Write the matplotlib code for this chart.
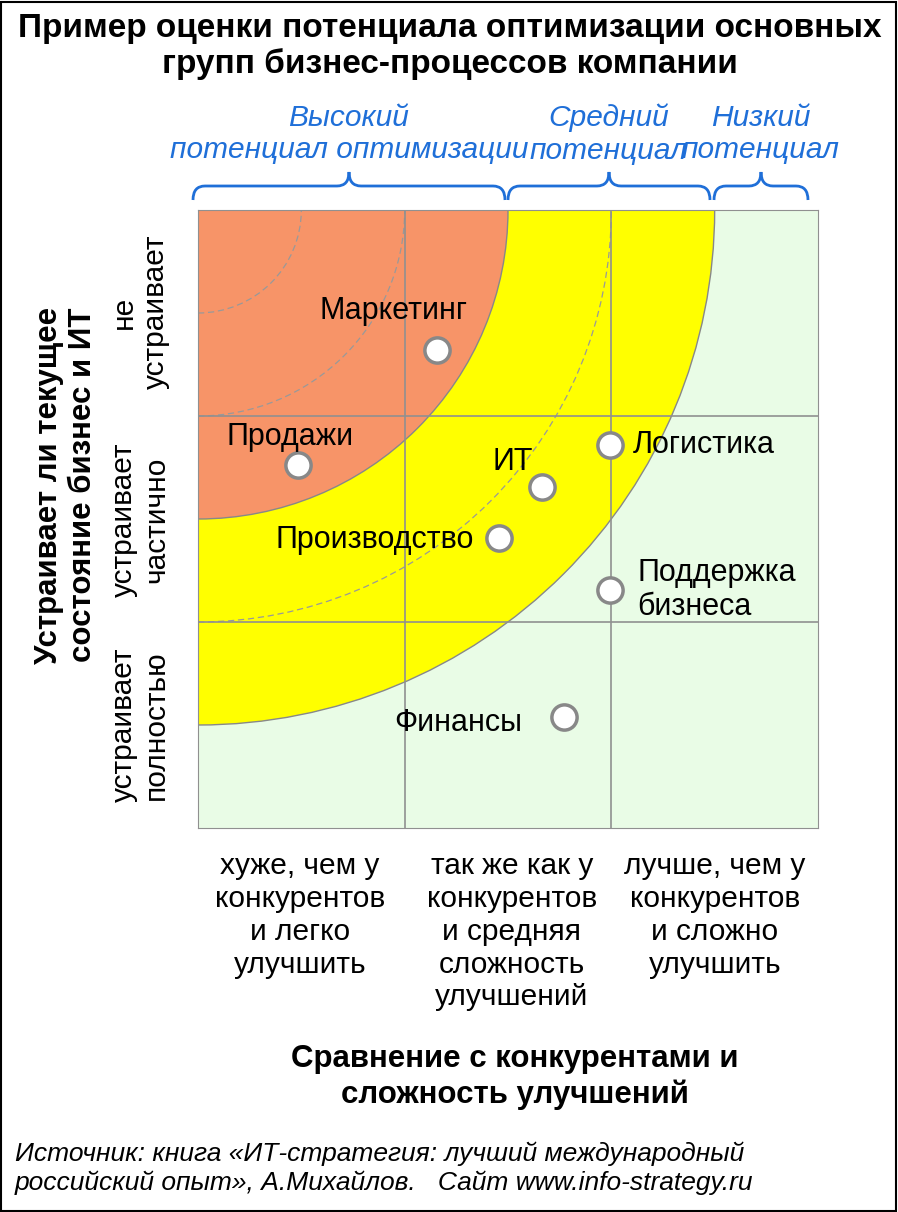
import matplotlib
matplotlib.use("Agg")
import matplotlib.pyplot as plt
from matplotlib.patches import Circle, Rectangle, PathPatch
from matplotlib.path import Path

plt.rcParams["font.family"] = "Liberation Sans"

names = ["Маркетинг", "Продажи", "ИТ", "Логистика", "Производство", "Поддержка\nбизнеса", "Финансы"]
xs = [1.155, 0.485, 1.665, 1.995, 1.456, 1.995, 1.77]
ys = [2.32, 1.76, 1.655, 1.86, 1.41, 1.155, 0.54]
# label offsets (data units) and alignment
lab = [(-0.21, 0.19, "center"), (-0.04, 0.14, "center"), (-0.14, 0.12, "center"),
       (0.11, 0.0, "left"), (-0.12, -0.01, "right"), (0.13, 0.0, "left"), (-0.2, -0.03, "right")]
zone_radii = [2.5, 1.5]
zone_colors = ["#FFFF00", "#F79468"]
dashed_radii = [0.5, 1.0, 2.0]
x_cats = ["хуже, чем у\nконкурентов\nи легко\nулучшить",
          "так же как у\nконкурентов\nи средняя\nсложность\nулучшений",
          "лучше, чем у\nконкурентов\nи сложно\nулучшить"]
y_cats = ["устраивает\nполностью", "устраивает\nчастично", "не\nустраивает"]
potentials = ["Высокий\nпотенциал оптимизации", "Средний\nпотенциал", "Низкий\nпотенциал"]

W, H = 898, 1212
fig = plt.figure(figsize=(W/100, H/100), dpi=100)
fig.patches.append(Rectangle((1, 1), W-3, H-3, transform=None, fill=False, ec="black", lw=1.5))

def fy(py):
    return 1 - py/H

ax = fig.add_axes([198/W, fy(828), 620/W, 618/H])
ax.set_xlim(0, 3); ax.set_ylim(0, 3)
ax.add_patch(Rectangle((0, 0), 3, 3, fc="#E9FCE6", ec="none", zorder=0))
for r, c in zip(zone_radii, zone_colors):
    ax.add_patch(Circle((0, 3), r, fc=c, ec="#888888", lw=1, zorder=1))
for r in dashed_radii:
    ax.add_patch(Circle((0, 3), r, fill=False, ec="#999999", lw=0.9, ls=(0, (5, 3)), zorder=2))
for v in [1, 2]:
    ax.axvline(v, color="#909090", lw=1.2, zorder=3)
    ax.axhline(v, color="#909090", lw=1.2, zorder=3)
for s in ax.spines.values():
    s.set_color("#909090")
ax.set_xticks([]); ax.set_yticks([])
ax.scatter(xs, ys, s=330, facecolor="white", edgecolor="#888888", linewidth=2.5, zorder=5, clip_on=False)
for x, y, n, (dx, dy, ha) in zip(xs, ys, names, lab):
    ax.text(x+dx, y+dy, n, ha=ha, va="center", fontsize=22, zorder=6, linespacing=1.15)

fig.text(450/W, fy(28), "Пример оценки потенциала оптимизации основных", ha="center", va="center",
         fontsize=24, fontweight="bold")
fig.text(450/W, fy(64), "групп бизнес-процессов компании", ha="center", va="center",
         fontsize=24, fontweight="bold")

blue = "#1F6FD8"
for (x1, x2), t in zip([(193, 505), (508, 710), (714, 808)], potentials):
    m = (x1+x2)/2
    yb, yl, yt = 200, 186, 172
    verts = [(x1, yb), (x1, yl), (x1+12, yl), (m-12, yl), (m, yl), (m, yt),
             (m, yl), (m+12, yl), (x2-12, yl), (x2, yl), (x2, yb)]
    codes = [Path.MOVETO, Path.CURVE3, Path.CURVE3, Path.LINETO, Path.CURVE3, Path.CURVE3,
             Path.CURVE3, Path.CURVE3, Path.LINETO, Path.CURVE3, Path.CURVE3]
    verts = [(vx, H - vy) for vx, vy in verts]
    fig.patches.append(PathPatch(Path(verts, codes), transform=None, fill=False, ec=blue, lw=2))
    fig.text(m/W, fy(134), t, ha="center", va="center", fontsize=21.5, style="italic",
             color=blue, linespacing=1.2)
# shift small labels to match reference centres
for cx, t in zip([300, 512, 715], x_cats):
    fig.text(cx/W, fy(852), t, ha="center", va="top", fontsize=21.5, linespacing=1.22)
for cy, t in zip([725, 520, 312], y_cats):
    fig.text(140/W, fy(cy), t, ha="center", va="center", rotation=90, fontsize=21.5, linespacing=1.2)
fig.text(66/W, fy(485), "Устраивает ли текущее\nсостояние бизнес и ИТ", ha="center", va="center",
         rotation=90, fontsize=22.5, fontweight="bold", linespacing=1.2)
fig.text(515/W, fy(1077), "Сравнение с конкурентами и\nсложность улучшений", ha="center", va="center",
         fontsize=22.5, fontweight="bold", linespacing=1.25)
fig.text(15/W, fy(1168), "Источник: книга «ИТ-стратегия: лучший международный\nроссийский опыт», А.Михайлов.   Сайт www.info-strategy.ru",
         ha="left", va="center", fontsize=19, style="italic", linespacing=1.25)

fig.savefig("out.png", dpi=100)
